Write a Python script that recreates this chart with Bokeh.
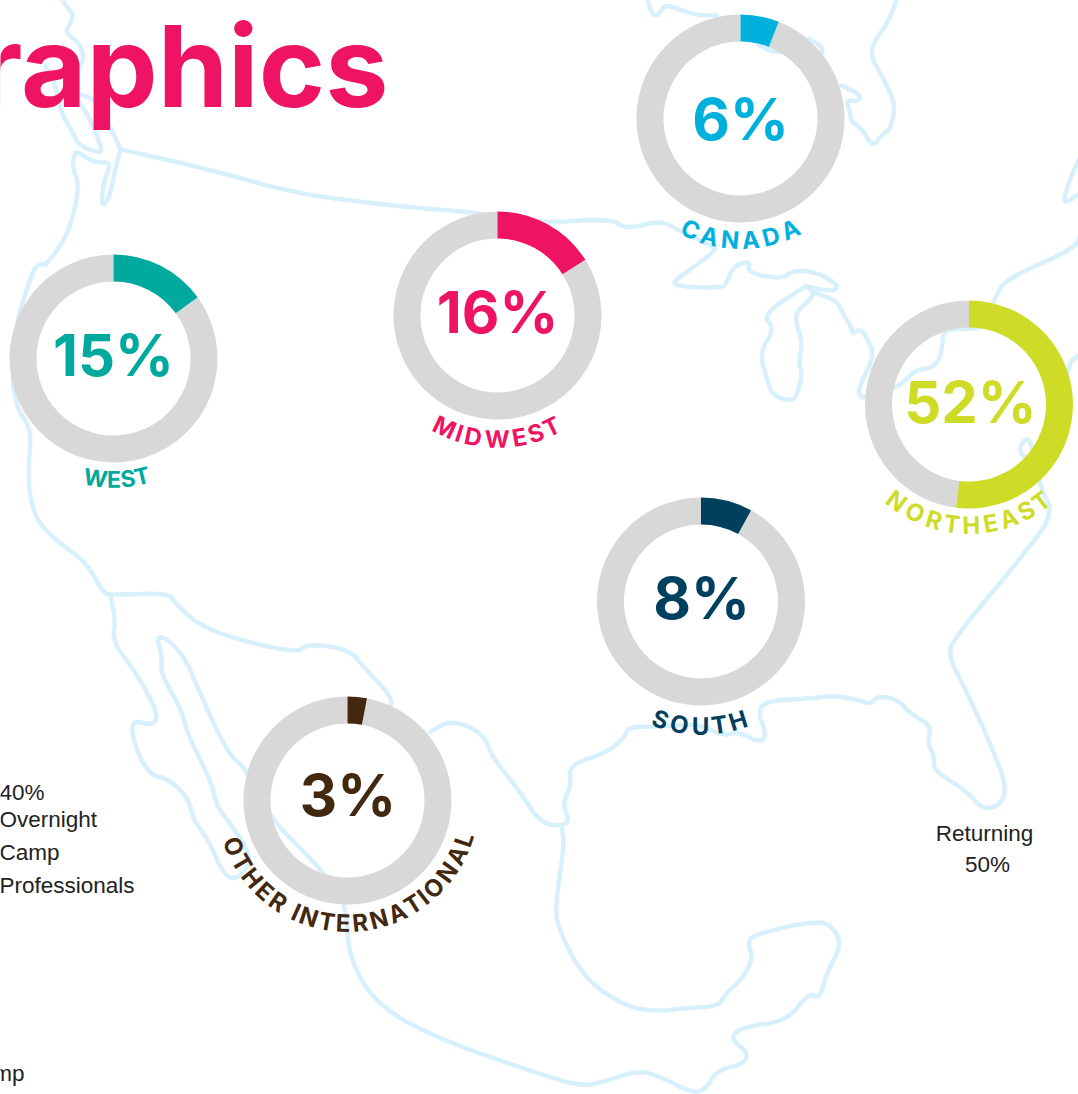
import math
from bokeh.plotting import figure
from bokeh.models import Range1d
from bokeh.core.properties import value
from bokeh.embed import file_html
from bokeh.resources import INLINE

W, H = 1078, 1094

# ---- data ----
regions = ["WEST", "MIDWEST", "CANADA", "NORTHEAST", "SOUTH", "OTHER INTERNATIONAL"]
shares = [15, 16, 6, 52, 8, 3]
colors = ["#00a99d", "#ef1463", "#00b0dc", "#cedc28", "#00405f", "#42280f"]
centers_x = [113, 497, 740, 968.5, 700.5, 347]
centers_y = [358, 315, 118, 404, 601, 800]
value_x = [113, 497, 740, 970, 701, 347.5]
value_base = [377, 334, 140.5, 424, 619.5, 817]
label_radius = [130, 133, 131, 130, 134, 132]
label_start = [-14, -31, -29, -42, -23, -73]
label_end = [17, 30, 29, 41, 22, 75]
label_size = [23, 24, 24, 24, 24, 24]

map_paths = [
    [(62,0),(66,6),(73,14),(70,22),(65,31),(71,36),(78,42),(82,50),(83,60),(70,80),(75,92),(88,95),(98,103),(110,125),(120,147)],
    [(45,65),(55,82),(60,110),(72,130),(78,143),(100,151),(101,145),(91,120),(82,105),(75,95)],
    [(120,147),(210,167),(296,191),(396,203),(482,210),(540,220),(609,215),(626,226),(660,217),(678,227),(712,243),(716,246),(695,262),(673,277),(676,282),(721,284),(726,279),(733,262),(750,257),(747,269),(781,275),(791,267),(812,267),(836,279),(836,286),(822,286),(805,282)],
    [(120,147),(115,165),(110,190),(104,203),(101,198),(103,180),(109,165),(108,160),(100,160),(90,158),(78,150),(74,150),(72,165),(78,180),(75,205),(65,235),(45,262),(42,260),(35,262),(28,280),(15,320),(12,380),(14,386),(17,403),(31,424),(28,458),(29,490),(38,517),(65,547),(86,562),(103,592),(110,594),(169,592),(174,602),(207,630),(296,652),(305,642),(348,647),(365,667),(389,692),(391,702)],
    [(110,595),(115,619),(112,640),(138,674),(158,712),(152,723),(131,717),(133,740),(148,771),(169,776),(188,795),(193,816),(207,834),(224,872),(238,874),(253,853),(227,816),(215,800),(212,781),(186,729),(182,709),(160,671),(162,657),(155,630),(182,650),(200,692),(227,750),(246,766),(272,816),(296,840),(324,869),(346,898),(348,953),(379,1002),(448,1036),(540,1067),(581,1079),(605,1074),(638,1063),(661,1070),(688,1084),(704,1084),(716,1063),(743,1057),(748,1046),(729,1031),(743,1020),(786,1015),(809,986),(819,993),(826,967),(841,940),(833,922),(817,915),(753,929),(747,938),(753,952),(741,974),(724,988),(719,1000),(681,1002),(660,1005),(626,1001),(583,972),(557,922),(555,898),(564,840),(561,822)],
    [(430,729),(451,717),(482,730),(492,754),(517,785),(540,819),(561,822),(569,817),(562,800),(571,781),(568,762),(605,750),(623,736),(628,724),(654,724),(698,721),(722,733),(738,729),(760,740),(766,731),(757,709),(767,698),(812,696),(833,693),(860,698),(869,702),(879,693),(898,698),(910,711),(931,723),(927,740),(934,754),(933,767),(967,788),(981,805),(998,803),(1007,785),(991,743),(962,681),(948,654),(953,637),(1029,547),(1053,506),(1039,479),(1033,445),(1027,430),(1017,444),(1029,455),(1050,440),(1065,400),(1067,358),(1082,348)],
    [(805,282),(762,310),(774,324),(759,348),(767,375),(771,389),(790,396),(797,389),(802,368),(798,358),(802,337),(795,317),(797,306),(809,296),(814,288),(805,282)],
    [(815,289),(836,296),(843,310),(852,325),(852,329),(860,324),(867,334),(874,351),(858,382),(859,391),(865,392),(896,382),(905,375),(915,365),(930,363),(939,355),(942,340),(943,327),(955,324),(982,324),(991,303),(995,293),(1005,275),(1077,244),(1080,227)],
    [(647,0),(652,15),(659,14),(664,3),(692,14),(716,15)],
    [(757,43),(774,52),(790,48)],
    [(809,38),(821,45),(822,52)],
    [(841,84),(860,93),(858,100),(845,98),(850,110),(850,119),(862,127),(872,145),(881,133),(890,127),(895,103),(884,79),(867,50),(888,21),(896,0)],
    [(1082,150),(1072,170),(1063,195),(1066,200),(1082,188)],
]

title_text = "Demographics"
small_texts = ["40%", "Overnight", "Camp", "Professionals", "Camp", "Returning", "50%"]
small_x = [-1, -1, -1, -1, 24, 984, 987]
small_base = [801, 828, 861, 894, 1082, 842, 873]
small_align = ["left", "left", "left", "left", "right", "center", "center"]

ADV = dict(A=.72,B=.66,C=.72,D=.74,E=.61,F=.58,G=.74,H=.74,I=.28,J=.56,K=.66,L=.56,M=.88,N=.75,O=.78,P=.64,Q=.78,R=.66,S=.62,T=.62,U=.73,V=.70,W=1.0,X=.68,Y=.66,Z=.64)
ADV[" "] = .3
BASE_SHIFT = 0.38  # the svg text sits this share of its size below the anchor

def fix_y(y):
    oy = 547 if y >= 547 else 0
    return oy + (y - oy)*1.0129

def smooth(pts, n=2):
    for _ in range(n):
        out = [pts[0]]
        for a, b in zip(pts[:-1], pts[1:]):
            out.append((.75*a[0]+.25*b[0], .75*a[1]+.25*b[1]))
            out.append((.25*a[0]+.75*b[0], .25*a[1]+.75*b[1]))
        out.append(pts[-1])
        pts = out
    return pts

Y = lambda py: H - py
TY = lambda py, size: H - py + BASE_SHIFT*size

p = figure(width=W, height=H, x_range=Range1d(0, W), y_range=Range1d(0, H),
           output_backend="svg", toolbar_location=None, min_border=0,
           outline_line_color=None, background_fill_color="white")
p.axis.visible = False
p.grid.visible = False

for path in map_paths:
    s = smooth([(x, fix_y(y)) for x, y in path])
    p.line([q[0] for q in s], [Y(q[1]) for q in s], line_color="#d8f0fb", line_width=4.5,
           line_join="round", line_cap="round")

p.text([388], [TY(108, 113)], text=[title_text], text_color="#ef1463", text_align="right",
       text_baseline="alphabetic", text_font=value("Inter"), text_font_style="bold",
       text_font_size=value("113px"))

for i, name in enumerate(regions):
    cx, cy, v, c = centers_x[i], Y(centers_y[i]), shares[i], colors[i]
    stop = math.pi/2 - 2*math.pi*v/100
    p.annular_wedge([cx], [cy], inner_radius=77, outer_radius=104, start_angle=stop,
                    end_angle=math.pi/2 - 2*math.pi, direction="clock",
                    fill_color="#d8d8d8", line_color=None)
    p.annular_wedge([cx], [cy], inner_radius=77, outer_radius=104, start_angle=math.pi/2,
                    end_angle=stop, direction="clock", fill_color=c, line_color=None)
    p.text([value_x[i]], [TY(value_base[i], 58)], text=[f"{v}%"], text_color=c, text_align="center",
           text_baseline="alphabetic", text_font=value("Inter"), text_font_style="bold",
           text_font_size=value("58px"))
    # label set along an arc, one letter at a time
    adv = [ADV[ch] for ch in name]
    total = sum(adv)
    run, xs, ys, angs = 0, [], [], []
    rad = label_radius[i] - BASE_SHIFT*label_size[i]
    for a in adv:
        t = (run + a/2)/total
        run += a
        th = math.radians(label_start[i] + t*(label_end[i]-label_start[i]))
        xs.append(cx + rad*math.sin(th))
        ys.append(cy - rad*math.cos(th))
        angs.append(th)
    p.text(xs, ys, text=list(name), angle=angs, text_color=c, text_align="center",
           text_baseline="alphabetic", text_font=value("Inter"), text_font_style="bold",
           text_font_size=value(f"{label_size[i]}px"))

for t, x, b, a in zip(small_texts, small_x, small_base, small_align):
    p.text([x], [TY(b, 22.5)], text=[t], text_color="#222222", text_align=a, text_baseline="alphabetic",
           text_font=value("Liberation Sans"), text_font_size=value("22.5px"))

open("out.html", "w").write(file_html(p, INLINE))
